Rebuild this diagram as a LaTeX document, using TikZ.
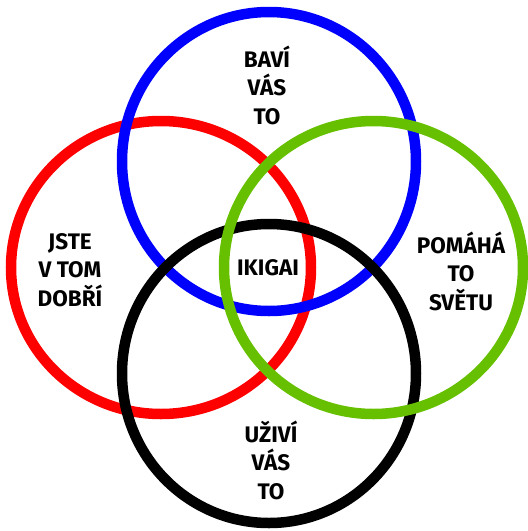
\documentclass[tikz,border=0pt]{standalone}
\usepackage{fontspec}
\setmainfont{Fira Sans}
\definecolor{ikred}{RGB}{255,0,0}
\definecolor{ikblue}{RGB}{0,0,255}
\definecolor{ikgreen}{RGB}{102,192,0}
\definecolor{ikblack}{RGB}{0,0,0}
\begin{document}
\begin{tikzpicture}[x=1pt,y=-1pt,
  ring/.style={line width=10.5pt},
  lbl/.style={align=center,font=\fontsize{22.5}{28.5}\selectfont\bfseries,text=black,inner sep=0pt}]
\useasboundingbox (0,0) rectangle (528,531);
\draw[ring,ikred]   (161,267.5) ellipse [x radius=150,y radius=146.5];
\draw[ring,ikblue]  (269,161.5) ellipse [x radius=147,y radius=149.5];
\draw[ring,ikblack] (269,373.5) ellipse [x radius=147,y radius=149.5];
\draw[ring,ikgreen] (373.5,267.5) ellipse [x radius=149.5,y radius=146.5];
\node[lbl] (top) at (267,85) {BAVÍ\\VÁS\\TO};
\node[lbl] (left) at (70,270) {JSTE\\V TOM\\DOBŘÍ};
\node[lbl] (right) at (461,271) {POMÁHÁ\\TO\\SVĚTU};
\node[lbl] (mid) at (268,268) {IKIGAI};
\node[lbl] (bottom) at (271,460) {UŽIVÍ\\VÁS\\TO};
\end{tikzpicture}
\end{document}
